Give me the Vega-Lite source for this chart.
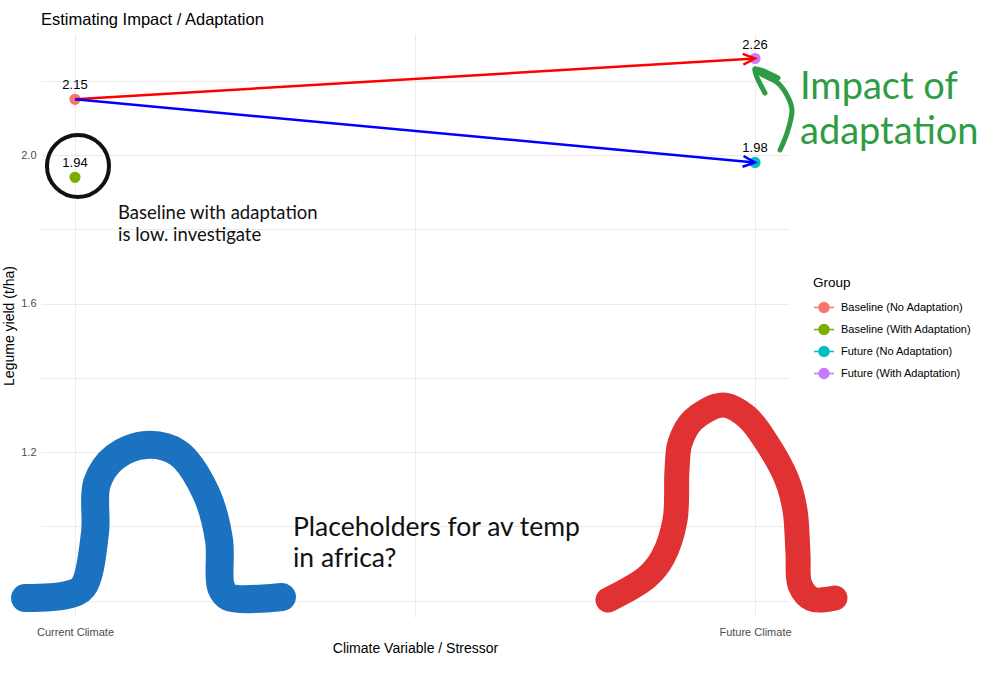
{
  "$schema": "https://vega.github.io/schema/vega-lite/v6.json",
  "width": 748,
  "height": 583,
  "autosize": {"type": "none"},
  "padding": {"left": 41, "top": 34, "right": 217, "bottom": 59},
  "background": "white",
  "title": {"text": "Estimating Impact / Adaptation", "anchor": "start", "frame": "group", "fontSize": 16.5, "fontWeight": "normal", "font": "Liberation Sans", "color": "#000000", "offset": 6},
  "config": {
    "view": {"stroke": null},
    "font": "Liberation Sans",
    "axis": {"domain": false, "ticks": false, "gridColor": "#ebebeb", "gridWidth": 1, "labelColor": "#4d4d4d", "labelFontSize": 11, "titleFontSize": 14, "titleFontWeight": "normal", "titleColor": "#000000", "labelFont": "Liberation Sans", "titleFont": "Liberation Sans"},
    "legend": {"titleFontSize": 13.5, "titleFontWeight": "normal", "titleColor": "#000000", "labelFontSize": 11, "labelColor": "#000000", "labelFont": "Liberation Sans", "titleFont": "Liberation Sans"}
  },
  "datasets": {
    "pts": [
      {"group": "Baseline (No Adaptation)", "x": 1, "y": 2.15},
      {"group": "Baseline (With Adaptation)", "x": 1, "y": 1.94},
      {"group": "Future (No Adaptation)", "x": 2, "y": 1.98},
      {"group": "Future (With Adaptation)", "x": 2, "y": 2.26}
    ],
    "circle": [{"x": 1.0044, "y": 1.9704}],
    "shapes": [
      {"shape": "blue", "i": 1, "x": 0.9265, "y": 0.8067},
      {"shape": "blue", "i": 2, "x": 0.9882, "y": 0.8148},
      {"shape": "blue", "i": 3, "x": 1.0118, "y": 0.8364},
      {"shape": "blue", "i": 4, "x": 1.0294, "y": 0.9818},
      {"shape": "blue", "i": 5, "x": 1.0324, "y": 1.1165},
      {"shape": "blue", "i": 6, "x": 1.0588, "y": 1.1865},
      {"shape": "blue", "i": 7, "x": 1.1044, "y": 1.2189},
      {"shape": "blue", "i": 8, "x": 1.1515, "y": 1.1973},
      {"shape": "blue", "i": 9, "x": 1.1926, "y": 1.0896},
      {"shape": "blue", "i": 10, "x": 1.2118, "y": 0.963},
      {"shape": "blue", "i": 11, "x": 1.2147, "y": 0.8364},
      {"shape": "blue", "i": 12, "x": 1.2265, "y": 0.8094},
      {"shape": "blue", "i": 13, "x": 1.3044, "y": 0.8094},
      {"shape": "red", "i": 1, "x": 1.7838, "y": 0.8013},
      {"shape": "red", "i": 2, "x": 1.8412, "y": 0.8633},
      {"shape": "red", "i": 3, "x": 1.8647, "y": 0.9172},
      {"shape": "red", "i": 4, "x": 1.8824, "y": 1.0168},
      {"shape": "red", "i": 5, "x": 1.8853, "y": 1.1515},
      {"shape": "red", "i": 6, "x": 1.8897, "y": 1.2242},
      {"shape": "red", "i": 7, "x": 1.9088, "y": 1.2862},
      {"shape": "red", "i": 8, "x": 1.9529, "y": 1.3266},
      {"shape": "red", "i": 9, "x": 1.9882, "y": 1.2943},
      {"shape": "red", "i": 10, "x": 2.0176, "y": 1.2242},
      {"shape": "red", "i": 11, "x": 2.0471, "y": 1.1246},
      {"shape": "red", "i": 12, "x": 2.0588, "y": 1.0438},
      {"shape": "red", "i": 13, "x": 2.0632, "y": 0.9279},
      {"shape": "red", "i": 14, "x": 2.0662, "y": 0.8418},
      {"shape": "red", "i": 15, "x": 2.0838, "y": 0.804},
      {"shape": "red", "i": 16, "x": 2.1176, "y": 0.8067}
    ],
    "garrow": [
      {"part": "shaft", "i": 1, "x": 2.0368, "y": 2.0135},
      {"part": "shaft", "i": 2, "x": 2.0471, "y": 2.0593},
      {"part": "shaft", "i": 3, "x": 2.0544, "y": 2.1212},
      {"part": "shaft", "i": 4, "x": 2.0485, "y": 2.1562},
      {"part": "shaft", "i": 5, "x": 2.0338, "y": 2.1939},
      {"part": "shaft", "i": 6, "x": 2.0118, "y": 2.2155},
      {"part": "shaft", "i": 7, "x": 2.0, "y": 2.2317},
      {"part": "head", "i": 1, "x": 2.0338, "y": 2.2074},
      {"part": "head", "i": 2, "x": 2.0, "y": 2.2317},
      {"part": "head", "i": 3, "x": 2.0147, "y": 2.167}
    ],
    "notes": [
      {"size": "small", "note": "Baseline with adaptation", "x": 1.0632, "y": 1.8276},
      {"size": "small", "note": "is low. investigate", "x": 1.0632, "y": 1.7684},
      {"size": "mid", "note": "Placeholders for av temp", "x": 1.3206, "y": 0.9737},
      {"size": "mid", "note": "in africa?", "x": 1.3206, "y": 0.8902},
      {"size": "big", "note": "Impact of", "x": 2.0662, "y": 2.1508},
      {"size": "big", "note": "adaptation", "x": 2.0662, "y": 2.0296}
    ]
  },
  "encoding": {
    "x": {"field": "x", "type": "quantitative", "scale": {"domain": [0.95, 2.05], "nice": false, "zero": false},
      "axis": {"values": [1, 1.5, 2], "labelExpr": "datum.value == 1 ? 'Current Climate' : datum.value == 2 ? 'Future Climate' : ''", "title": "Climate Variable / Stressor", "labelPadding": 9, "titlePadding": 4, "labelFlush": false}},
    "y": {"field": "y", "type": "quantitative", "scale": {"domain": [0.7556, 2.326], "nice": false, "zero": false},
      "axis": {"values": [0.8, 1.0, 1.2, 1.4, 1.6, 1.8, 2.0, 2.2], "labelExpr": "(datum.value == 1.2 || datum.value == 1.6 || datum.value == 2) ? format(datum.value, '.1f') : ''", "title": "Legume yield (t/ha)", "labelPadding": 5, "titlePadding": 4}}
  },
  "layer": [
    {
      "data": {"name": "pts"},
      "mark": {"type": "point", "filled": true, "size": 85, "opacity": 1},
      "encoding": {
        "color": {"field": "group", "type": "nominal", "title": "Group",
          "scale": {"domain": ["Baseline (No Adaptation)", "Baseline (With Adaptation)", "Future (No Adaptation)", "Future (With Adaptation)"], "range": ["#F8766D", "#7CAE00", "#00BFC4", "#C77CFF"]},
          "legend": {"orient": "none", "legendX": 772, "legendY": 242, "symbolType": "M-1,0L1,0M-0.5,0A0.5,0.5 0 1,0 0.5,0A0.5,0.5 0 1,0 -0.5,0Z", "symbolSize": 400, "symbolStrokeWidth": 1.5, "rowPadding": 3, "titlePadding": 7, "labelOffset": 6}},
        "stroke": {"field": "group", "type": "nominal", "title": "Group",
          "scale": {"domain": ["Baseline (No Adaptation)", "Baseline (With Adaptation)", "Future (No Adaptation)", "Future (With Adaptation)"], "range": ["#F8766D", "#7CAE00", "#00BFC4", "#C77CFF"]}}
      }
    },
    {
      "data": {"name": "pts"},
      "transform": [{"filter": "datum.group == 'Baseline (No Adaptation)' || datum.group == 'Future (With Adaptation)'"}],
      "mark": {"type": "line", "color": "#ff0000", "strokeWidth": 2.5},
      "encoding": {}
    },
    {
      "data": {"name": "pts"},
      "transform": [{"filter": "datum.group == 'Baseline (No Adaptation)' || datum.group == 'Future (No Adaptation)'"}],
      "mark": {"type": "line", "color": "#0000ff", "strokeWidth": 2.5},
      "encoding": {}
    },
    {
      "data": {"name": "pts"},
      "transform": [{"filter": "datum.group == 'Future (With Adaptation)'"}],
      "mark": {"type": "point", "shape": "M-1,-0.45L0,0L-1,0.45", "filled": false, "color": "#ff0000", "strokeWidth": 2.5, "size": 576, "angle": -3.4, "opacity": 1}
    },
    {
      "data": {"name": "pts"},
      "transform": [{"filter": "datum.group == 'Future (No Adaptation)'"}],
      "mark": {"type": "point", "shape": "M-1,-0.45L0,0L-1,0.45", "filled": false, "color": "#0000ff", "strokeWidth": 2.5, "size": 576, "angle": 5.3, "opacity": 1}
    },
    {
      "data": {"name": "pts"},
      "mark": {"type": "text", "dy": -14, "fontSize": 13, "color": "#000000", "font": "Liberation Sans"},
      "encoding": {"text": {"field": "y", "type": "quantitative", "format": ".2f"}}
    },
    {
      "data": {"name": "circle"},
      "mark": {"type": "point", "shape": "circle", "filled": false, "color": "#111111", "strokeWidth": 4, "size": 3850, "opacity": 1}
    },
    {
      "data": {"name": "shapes"},
      "transform": [{"filter": "datum.shape == 'blue'"}],
      "mark": {"type": "line", "color": "#1b72c0", "strokeWidth": 28, "strokeCap": "round", "strokeJoin": "round", "interpolate": "catmull-rom"},
      "encoding": {"order": {"field": "i", "type": "quantitative"}}
    },
    {
      "data": {"name": "shapes"},
      "transform": [{"filter": "datum.shape == 'red'"}],
      "mark": {"type": "line", "color": "#e03232", "strokeWidth": 25, "strokeCap": "round", "strokeJoin": "round", "interpolate": "catmull-rom"},
      "encoding": {"order": {"field": "i", "type": "quantitative"}}
    },
    {
      "data": {"name": "garrow"},
      "mark": {"type": "line", "color": "#2f9c45", "strokeWidth": 5, "strokeCap": "round", "strokeJoin": "round", "interpolate": "catmull-rom"},
      "encoding": {"order": {"field": "i", "type": "quantitative"}, "detail": {"field": "part", "type": "nominal"}}
    },
    {
      "data": {"name": "notes"},
      "transform": [{"filter": "datum.size == 'small'"}],
      "mark": {"type": "text", "align": "left", "baseline": "alphabetic", "fontSize": 18.5, "font": "Lato", "color": "#111111"},
      "encoding": {"text": {"field": "note"}}
    },
    {
      "data": {"name": "notes"},
      "transform": [{"filter": "datum.size == 'mid'"}],
      "mark": {"type": "text", "align": "left", "baseline": "alphabetic", "fontSize": 26.5, "font": "Lato", "color": "#111111"},
      "encoding": {"text": {"field": "note"}}
    },
    {
      "data": {"name": "notes"},
      "transform": [{"filter": "datum.size == 'big'"}],
      "mark": {"type": "text", "align": "left", "baseline": "alphabetic", "fontSize": 38, "font": "Lato", "color": "#2f9c45"},
      "encoding": {"text": {"field": "note"}}
    }
  ]
}
